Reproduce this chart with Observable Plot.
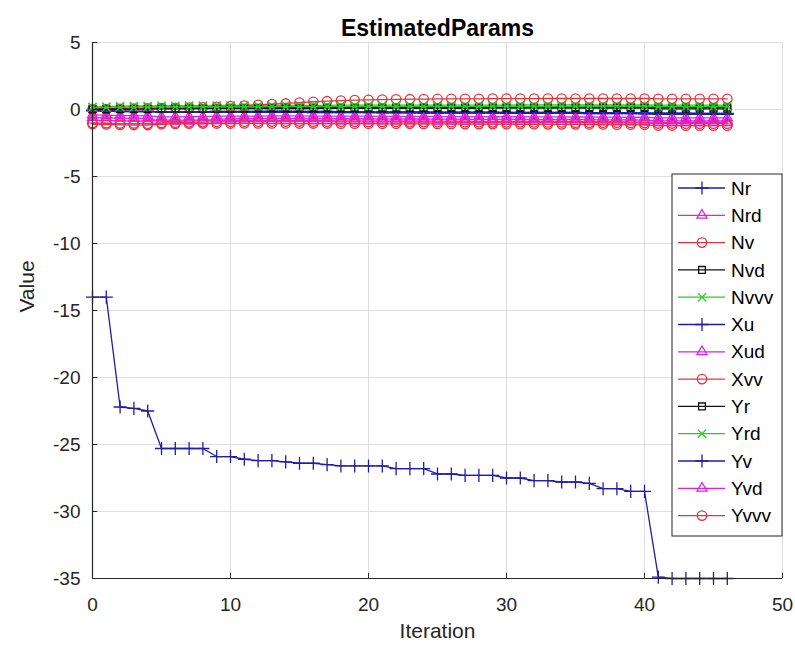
<!DOCTYPE html>
<html><head><meta charset="utf-8">
<script src="https://cdn.jsdelivr.net/npm/d3@7"></script>
<script src="https://cdn.jsdelivr.net/npm/@observablehq/plot@0.6"></script>
<style>
body{margin:0;background:#fff;}
#chart{position:relative;width:795px;height:657px;font-family:"Liberation Sans",Arial,sans-serif;}
#legend{position:absolute;left:0;top:0;pointer-events:none;}
</style>
</head><body><div id="chart"></div>
<script>
const iterations = [0,1,2,3,4,5,6,7,8,9,10,11,12,13,14,15,16,17,18,19,20,21,22,23,24,25,26,27,28,29,30,31,32,33,34,35,36,37,38,39,40,41,42,43,44,45,46];
const xTicks = [0,10,20,30,40,50];
const yTicks = [5,0,-5,-10,-15,-20,-25,-30,-35];
const seriesNames = ["Nr","Nrd","Nv","Nvd","Nvvv","Xu","Xud","Xvv","Yr","Yrd","Yv","Yvd","Yvvv"];

const Nr = [-0.10,-0.12,-0.15,-0.15,-0.14,-0.18,-0.18,-0.17,-0.16,-0.15,
 -0.15,-0.14,-0.14,-0.13,-0.13,-0.14,-0.15,-0.15,-0.16,-0.16,
 -0.17,-0.17,-0.18,-0.18,-0.18,-0.19,-0.19,-0.20,-0.20,-0.20,
 -0.21,-0.21,-0.21,-0.22,-0.22,-0.22,-0.23,-0.23,-0.24,-0.24,
 -0.25,-0.28,-0.28,-0.28,-0.29,-0.29,-0.29];
const Nrd = [-0.40,-0.42,-0.45,-0.46,-0.47,-0.55,-0.55,-0.54,-0.53,-0.50,
 -0.50,-0.49,-0.49,-0.48,-0.48,-0.48,-0.49,-0.49,-0.50,-0.50,
 -0.50,-0.51,-0.51,-0.52,-0.52,-0.52,-0.53,-0.53,-0.53,-0.54,
 -0.54,-0.54,-0.55,-0.55,-0.55,-0.56,-0.56,-0.57,-0.57,-0.58,
 -0.58,-0.62,-0.62,-0.62,-0.63,-0.63,-0.63];
const Nv = [-1.00,-1.02,-1.05,-1.05,-1.06,-1.00,-0.98,-0.96,-0.94,-0.92,
 -0.92,-0.91,-0.91,-0.90,-0.90,-0.90,-0.91,-0.91,-0.92,-0.92,
 -0.93,-0.93,-0.93,-0.94,-0.94,-0.94,-0.95,-0.95,-0.95,-0.96,
 -0.96,-0.96,-0.97,-0.97,-0.97,-0.98,-0.98,-0.99,-0.99,-1.00,
 -1.00,-1.05,-1.05,-1.06,-1.06,-1.06,-1.06];
const Nvd = [0.05,0.06,0.08,0.08,0.08,0.10,0.10,0.11,0.11,0.12,
 0.12,0.12,0.13,0.13,0.13,0.13,0.14,0.14,0.14,0.14,
 0.15,0.15,0.15,0.15,0.15,0.16,0.16,0.16,0.16,0.16,
 0.16,0.17,0.17,0.17,0.17,0.17,0.17,0.18,0.18,0.18,
 0.18,0.15,0.15,0.15,0.15,0.15,0.15];
const Nvvv = [0.20,0.22,0.25,0.26,0.26,0.28,0.28,0.29,0.29,0.30,
 0.30,0.30,0.30,0.31,0.31,0.31,0.31,0.31,0.32,0.32,
 0.32,0.32,0.32,0.32,0.33,0.33,0.33,0.33,0.33,0.33,
 0.33,0.34,0.34,0.34,0.34,0.34,0.34,0.35,0.35,0.35,
 0.35,0.32,0.32,0.32,0.32,0.32,0.32];
const Xu = [-0.05,-0.08,-0.12,-0.14,-0.15,-0.22,-0.22,-0.21,-0.20,-0.20,
 -0.20,-0.20,-0.21,-0.21,-0.22,-0.22,-0.23,-0.23,-0.24,-0.24,
 -0.24,-0.25,-0.25,-0.25,-0.26,-0.26,-0.26,-0.27,-0.27,-0.27,
 -0.28,-0.28,-0.28,-0.29,-0.29,-0.29,-0.30,-0.30,-0.31,-0.31,
 -0.32,-0.36,-0.36,-0.37,-0.37,-0.37,-0.37];
const Xud = [-0.60,-0.62,-0.65,-0.66,-0.68,-0.88,-0.88,-0.87,-0.85,-0.72,
 -0.70,-0.68,-0.68,-0.67,-0.67,-0.67,-0.68,-0.68,-0.69,-0.69,
 -0.70,-0.70,-0.70,-0.71,-0.71,-0.72,-0.72,-0.73,-0.73,-0.73,
 -0.74,-0.74,-0.75,-0.75,-0.75,-0.76,-0.76,-0.77,-0.78,-0.78,
 -0.79,-0.85,-0.85,-0.86,-0.86,-0.86,-0.86];
const Xvv = [0.00,0.02,0.05,0.07,0.08,0.10,0.12,0.14,0.16,0.20,
 0.25,0.30,0.35,0.40,0.45,0.52,0.58,0.62,0.66,0.70,
 0.72,0.74,0.76,0.77,0.78,0.79,0.80,0.80,0.80,0.81,
 0.81,0.81,0.81,0.82,0.82,0.82,0.82,0.82,0.82,0.82,
 0.82,0.80,0.80,0.80,0.80,0.80,0.80];
const Yr = [0.00,0.01,0.02,0.03,0.03,0.05,0.05,0.05,0.06,0.06,
 0.06,0.06,0.07,0.07,0.07,0.07,0.07,0.08,0.08,0.08,
 0.08,0.08,0.08,0.09,0.09,0.09,0.09,0.09,0.09,0.10,
 0.10,0.10,0.10,0.10,0.10,0.10,0.11,0.11,0.11,0.11,
 0.11,0.05,0.05,0.05,0.05,0.05,0.05];
const Yrd = [0.15,0.16,0.18,0.18,0.19,0.20,0.20,0.20,0.21,0.21,
 0.21,0.21,0.22,0.22,0.22,0.22,0.22,0.23,0.23,0.23,
 0.23,0.23,0.23,0.24,0.24,0.24,0.24,0.24,0.24,0.25,
 0.25,0.25,0.25,0.25,0.25,0.25,0.26,0.26,0.26,0.26,
 0.26,0.22,0.22,0.22,0.22,0.22,0.22];
const Yv = [-14.0,-14.0,-22.2,-22.3,-22.5,-25.3,-25.3,-25.3,-25.3,-25.9,
 -25.9,-26.1,-26.2,-26.2,-26.3,-26.4,-26.4,-26.5,-26.6,-26.6,
 -26.6,-26.6,-26.8,-26.8,-26.8,-27.2,-27.2,-27.3,-27.3,-27.3,
 -27.5,-27.5,-27.7,-27.7,-27.8,-27.8,-27.9,-28.3,-28.3,-28.5,
 -28.5,-34.9,-35.0,-35.0,-35.0,-35.0,-35.0];
const Yvd = [-0.80,-0.82,-0.85,-0.86,-0.86,-0.80,-0.80,-0.80,-0.80,-0.82,
 -0.82,-0.82,-0.83,-0.83,-0.83,-0.84,-0.84,-0.84,-0.85,-0.85,
 -0.85,-0.85,-0.86,-0.86,-0.86,-0.87,-0.87,-0.87,-0.88,-0.88,
 -0.88,-0.89,-0.89,-0.89,-0.90,-0.90,-0.90,-0.91,-0.91,-0.92,
 -0.92,-0.98,-0.98,-0.99,-0.99,-0.99,-0.99];
const Yvvv = [-1.10,-1.12,-1.15,-1.16,-1.16,-1.10,-1.08,-1.06,-1.05,-1.05,
 -1.05,-1.04,-1.04,-1.04,-1.04,-1.05,-1.05,-1.05,-1.06,-1.06,
 -1.06,-1.07,-1.07,-1.07,-1.08,-1.08,-1.08,-1.09,-1.09,-1.09,
 -1.10,-1.10,-1.10,-1.11,-1.11,-1.11,-1.12,-1.12,-1.13,-1.13,
 -1.14,-1.20,-1.20,-1.21,-1.21,-1.21,-1.21];

const seriesValues = [Nr,Nrd,Nv,Nvd,Nvvv,Xu,Xud,Xvv,Yr,Yrd,Yv,Yvd,Yvvv];

// MATLAB-like style cycle: b-+, m-^, r-o, k-s, g-x
const styleCycle = [
  {color:"#1e1ea8", symbol:"plus", r:4.3},
  {color:"#e020e0", symbol:"triangle2", r:4.8},
  {color:"#e3343c", symbol:"circle", r:4.7},
  {color:"#111111", symbol:"square2", r:4.3},
  {color:"#22d022", symbol:"times", r:3.8}
];

const rows = [];
seriesNames.forEach((name, s) => {
  seriesValues[s].forEach((v, i) => rows.push({series: name, s, iter: iterations[i], value: v}));
});

const marks = [
  Plot.gridX(xTicks, {stroke:"#dedede", strokeOpacity:1}),
  Plot.gridY(yTicks, {stroke:"#dedede", strokeOpacity:1})
];
seriesNames.forEach((name, s) => {
  const st = styleCycle[s % 5];
  const d = rows.filter(r => r.s === s);
  marks.push(Plot.line(d, {x:"iter", y:"value", stroke: st.color, strokeWidth:1.3}));
  marks.push(Plot.dot(d, {x:"iter", y:"value", stroke: st.color, fill:"none", symbol: st.symbol, r: st.r, strokeWidth:1.3}));
});
marks.push(
  Plot.ruleX([0], {stroke:"#262626", strokeWidth:1.2}),
  Plot.ruleY([-35], {stroke:"#262626", strokeWidth:1.2}),
  Plot.ruleY(yTicks, {x1:0, x2:0.38, stroke:"#262626"}),
  Plot.ruleX(xTicks, {y1:-35, y2:-34.62, stroke:"#262626"}),
  Plot.axisX(xTicks, {tickSize:0, tickPadding:19, fontSize:19, label:null, tickFormat: d => String(d)}),
  Plot.axisY(yTicks, {tickSize:0, tickPadding:12, fontSize:19, label:null, tickFormat: d => String(d)}),
  Plot.text(["EstimatedParams"], {frameAnchor:"top", dy:-23, fontSize:23, fontWeight:"bold", fill:"#000"}),
  Plot.text(["Iteration"], {frameAnchor:"bottom", dy:59, fontSize:21, fill:"#262626"}),
  Plot.text(["Value"], {frameAnchor:"left", dx:-65, rotate:-90, textAnchor:"middle", dy:-24, fontSize:21, fill:"#262626"})
);

const chart = Plot.plot({
  width:795, height:657,
  marginLeft:92, marginRight:13, marginTop:42, marginBottom:79,
  style:{fontFamily:'"Liberation Sans", Arial, sans-serif', color:"#262626", background:"#fff", overflow:"visible"},
  x:{domain:[0,50]},
  y:{domain:[-35,5]},
  marks
});
const host = document.getElementById("chart");
host.appendChild(chart);

// Legend overlay
const leg = d3.select(host).append("svg").attr("id","legend").attr("width",795).attr("height",657);
const lx = 672, ly = 174, lw = 110, lh = 362, step = 27.3;
leg.append("rect").attr("x",lx).attr("y",ly).attr("width",lw).attr("height",lh)
  .attr("fill","#fff").attr("stroke","#262626").attr("stroke-width",1);
const symMap = {plus:d3.symbolPlus, triangle2:d3.symbolTriangle2, circle:d3.symbolCircle, square2:d3.symbolSquare2, times:d3.symbolTimes};
seriesNames.forEach((name, s) => {
  const st = styleCycle[s % 5];
  const y = ly + 14 + s * step;
  leg.append("line").attr("x1",lx+6).attr("x2",lx+53).attr("y1",y).attr("y2",y)
    .attr("stroke",st.color).attr("stroke-width",1.3);
  leg.append("path").attr("d", d3.symbol(symMap[st.symbol], Math.PI*st.r*st.r)())
    .attr("transform",`translate(${lx+30},${y})`).attr("fill","none").attr("stroke",st.color).attr("stroke-width",1.3);
  leg.append("text").attr("x",lx+59).attr("y",y).attr("dy","0.35em")
    .attr("font-size",19).attr("fill","#000").attr("font-family",'"Liberation Sans", Arial, sans-serif').text(name);
});
</script>
</body></html>
